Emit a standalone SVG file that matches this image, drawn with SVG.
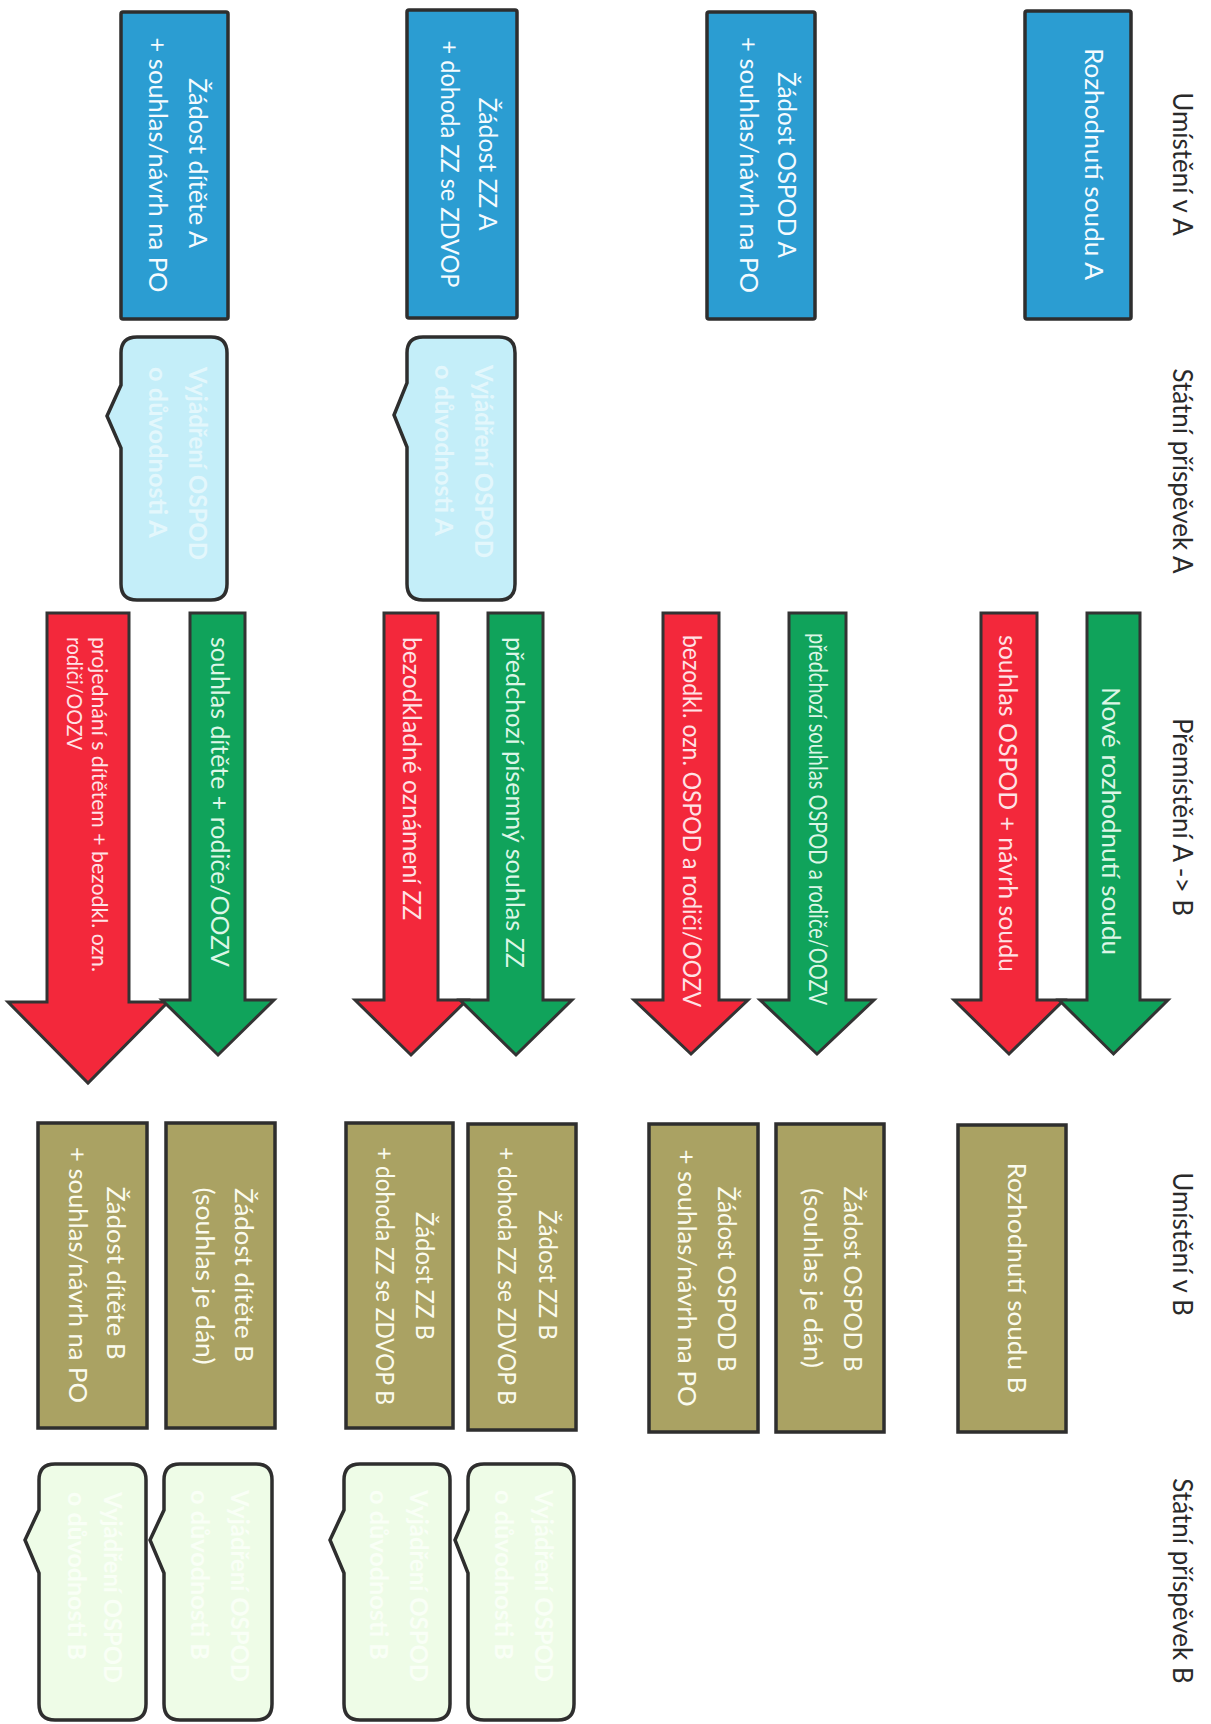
<svg xmlns="http://www.w3.org/2000/svg" width="1211" height="1724" viewBox="0 0 1211 1724">
<style>
  .hdr { font-family: Lato, "Liberation Sans", sans-serif; font-size: 26px; fill: #2a2a2a; }
  .bt { font-family: Lato, "Liberation Sans", sans-serif; font-size: 25px; fill: #f4fbff; }
  .ot { font-family: Lato, "Liberation Sans", sans-serif; font-size: 25px; fill: #fbfbee; }
  .blt { font-family: Lato, "Liberation Sans", sans-serif; font-size: 24px; font-weight: bold; fill: #e3f7fc; }
  .gbt { font-family: Lato, "Liberation Sans", sans-serif; font-size: 24px; font-weight: bold; fill: #f9fff6; }
  .at { font-family: Lato, "Liberation Sans", sans-serif; font-size: 25px; }
  .rt { fill: #ffe2e5; }
  .gt { fill: #dcf6e6; }
  .blue { fill: #2b9dd2; stroke: #2e2e2e; stroke-width: 3.5; }
  .olive { fill: #aaa263; stroke: #2e2e2e; stroke-width: 3.5; }
  .lb { fill: #c4eef9; stroke: #2e2e2e; stroke-width: 3.5; }
  .lg { fill: #eefce7; stroke: #2e2e2e; stroke-width: 3.5; }
  .red { fill: #f3283b; stroke: #333; stroke-width: 3; stroke-linejoin: miter; }
  .green { fill: #10a35b; stroke: #333; stroke-width: 3; stroke-linejoin: miter; }
</style>

<g id="headers">
  <text class="hdr" transform="translate(1173,164) rotate(90)" text-anchor="middle">Umístění v A</text>
  <text class="hdr" transform="translate(1173,471) rotate(90)" text-anchor="middle">Státní příspěvek A</text>
  <text class="hdr" transform="translate(1173,817) rotate(90)" text-anchor="middle">Přemístění A -&gt; B</text>
  <text class="hdr" transform="translate(1173,1244) rotate(90)" text-anchor="middle">Umístění v B</text>
  <text class="hdr" transform="translate(1173,1581) rotate(90)" text-anchor="middle">Státní příspěvek B</text>
</g>

<!-- Column A placements -->
<g id="rozhodnuti-soudu-a">
  <rect class="blue" x="1025" y="11" width="106" height="308" rx="2"/>
  <text class="bt" transform="translate(1085,164) rotate(90)" text-anchor="middle" textLength="232" lengthAdjust="spacingAndGlyphs">Rozhodnutí soudu A</text>
</g>
<g id="zadost-ospod-a">
  <rect class="blue" x="707" y="12" width="108" height="307" rx="2"/>
  <text class="bt" transform="translate(778,165) rotate(90)" text-anchor="middle" textLength="186" lengthAdjust="spacingAndGlyphs">Žádost OSPOD A</text>
  <text class="bt" transform="translate(740,165) rotate(90)" text-anchor="middle" textLength="256" lengthAdjust="spacingAndGlyphs">+ souhlas/návrh na PO</text>
</g>
<g id="zadost-zz-a">
  <rect class="blue" x="407" y="10" width="110" height="308" rx="2"/>
  <text class="bt" transform="translate(479,164) rotate(90)" text-anchor="middle" textLength="133" lengthAdjust="spacingAndGlyphs">Žádost ZZ A</text>
  <text class="bt" transform="translate(441,164) rotate(90)" text-anchor="middle" textLength="247" lengthAdjust="spacingAndGlyphs">+ dohoda ZZ se ZDVOP</text>
</g>
<g id="zadost-ditete-a">
  <rect class="blue" x="121" y="12" width="107" height="307" rx="2"/>
  <text class="bt" transform="translate(189,163) rotate(90)" text-anchor="middle" textLength="170" lengthAdjust="spacingAndGlyphs">Žádost dítěte A</text>
  <text class="bt" transform="translate(149,165) rotate(90)" text-anchor="middle" textLength="255" lengthAdjust="spacingAndGlyphs">+ souhlas/návrh na PO</text>
</g>

<!-- State contribution A -->
<g id="vyjadreni-a-zz">
  <path class="lb" d="M423,337 H499 Q515,337 515,353 V584 Q515,600 499,600 H423 Q407,600 407,584 V447 L394,415 L407,383 V353 Q407,337 423,337 Z"/>
  <text class="blt" transform="translate(475,365) rotate(90)" textLength="193" lengthAdjust="spacingAndGlyphs">Vyjádření OSPOD</text>
  <text class="blt" transform="translate(435,365) rotate(90)" textLength="171" lengthAdjust="spacingAndGlyphs">o důvodnosti A</text>
</g>
<g id="vyjadreni-a-dite">
  <path class="lb" d="M137,337 H211 Q227,337 227,353 V584 Q227,600 211,600 H137 Q121,600 121,584 V448 L107,416 L121,385 V353 Q121,337 137,337 Z"/>
  <text class="blt" transform="translate(189,367) rotate(90)" textLength="193" lengthAdjust="spacingAndGlyphs">Vyjádření OSPOD</text>
  <text class="blt" transform="translate(149,367) rotate(90)" textLength="171" lengthAdjust="spacingAndGlyphs">o důvodnosti A</text>
</g>

<!-- Transfer arrows -->
<g id="connectors">
  <g id="arrow-souhlas-ospod">
    <path class="red" d="M981,613 H1037 V1000 H1064 L1009,1054 L954,1000 H981 Z"/>
    <text class="at rt" transform="translate(999,635) rotate(90)" textLength="337" lengthAdjust="spacingAndGlyphs">souhlas OSPOD + návrh soudu</text>
  </g>
  <g id="arrow-nove-rozhodnuti">
    <path class="green" d="M1087,613 H1140 V1000 H1168 L1113.5,1054 L1059,1000 H1087 Z"/>
    <text class="at gt" transform="translate(1102,687) rotate(90)" textLength="268" lengthAdjust="spacingAndGlyphs">Nové rozhodnutí soudu</text>
  </g>
  <g id="arrow-bezodkl-ospod">
    <path class="red" d="M663,613 H719 V1000 H748 L691,1054 L634,1000 H663 Z"/>
    <text class="at rt" transform="translate(683,635) rotate(90)" textLength="372" lengthAdjust="spacingAndGlyphs">bezodkl. ozn. OSPOD a rodiči/OOZV</text>
  </g>
  <g id="arrow-predchozi-ospod">
    <path class="green" d="M789,613 H846 V1000 H874 L817,1054 L760,1000 H789 Z"/>
    <text class="at gt" transform="translate(809,633) rotate(90)" textLength="372" lengthAdjust="spacingAndGlyphs">předchozí souhlas OSPOD a rodiče/OOZV</text>
  </g>
  <g id="arrow-bezodkladne-zz">
    <path class="red" d="M384,613 H438 V1000 H467 L411,1055 L355,1000 H384 Z"/>
    <text class="at rt" transform="translate(403,637) rotate(90)" textLength="283" lengthAdjust="spacingAndGlyphs">bezodkladné oznámení ZZ</text>
  </g>
  <g id="arrow-predchozi-zz">
    <path class="green" d="M488,613 H543 V1000 H572 L516,1055 L460,1000 H488 Z"/>
    <text class="at gt" transform="translate(506,637) rotate(90)" textLength="331" lengthAdjust="spacingAndGlyphs">předchozí písemný souhlas ZZ</text>
  </g>
  <g id="arrow-projednani">
    <path class="red" d="M47,613 H129 V1002 H168 L88,1083 L8,1002 H47 Z"/>
    <text class="at rt" style="font-size:21px" transform="translate(92,637) rotate(90)" textLength="335" lengthAdjust="spacingAndGlyphs">projednání s dítětem + bezodkl.  ozn.</text>
    <text class="at rt" style="font-size:21px" transform="translate(67,637) rotate(90)" textLength="113" lengthAdjust="spacingAndGlyphs">rodiči/OOZV</text>
  </g>
  <g id="arrow-souhlas-ditete">
    <path class="green" d="M190,613 H245 V1000 H274 L218,1055 L162,1000 H190 Z"/>
    <text class="at gt" transform="translate(211,637) rotate(90)" textLength="330" lengthAdjust="spacingAndGlyphs">souhlas dítěte + rodiče/OOZV</text>
  </g>
</g>

<!-- Column B placements -->
<g id="rozhodnuti-soudu-b">
  <rect class="olive" x="958" y="1125" width="108" height="307"/>
  <text class="ot" transform="translate(1008,1278) rotate(90)" text-anchor="middle" textLength="231" lengthAdjust="spacingAndGlyphs">Rozhodnutí soudu B</text>
</g>
<g id="zadost-ospod-b-dan">
  <rect class="olive" x="776" y="1124" width="108" height="308"/>
  <text class="ot" transform="translate(844,1279) rotate(90)" text-anchor="middle" textLength="185" lengthAdjust="spacingAndGlyphs">Žádost OSPOD B</text>
  <text class="ot" transform="translate(804,1278) rotate(90)" text-anchor="middle" textLength="180" lengthAdjust="spacingAndGlyphs">(souhlas je dán)</text>
</g>
<g id="zadost-ospod-b-souhlas">
  <rect class="olive" x="649" y="1124" width="109" height="308"/>
  <text class="ot" transform="translate(718,1279) rotate(90)" text-anchor="middle" textLength="185" lengthAdjust="spacingAndGlyphs">Žádost OSPOD B</text>
  <text class="ot" transform="translate(678,1278) rotate(90)" text-anchor="middle" textLength="257" lengthAdjust="spacingAndGlyphs">+ souhlas/návrh na PO</text>
</g>
<g id="zadost-zz-b-2">
  <rect class="olive" x="468" y="1124" width="108" height="306"/>
  <text class="ot" transform="translate(539,1275) rotate(90)" text-anchor="middle" textLength="130" lengthAdjust="spacingAndGlyphs">Žádost ZZ B</text>
  <text class="ot" transform="translate(498,1276) rotate(90)" text-anchor="middle" textLength="258" lengthAdjust="spacingAndGlyphs">+ dohoda ZZ se ZDVOP B</text>
</g>
<g id="zadost-zz-b-1">
  <rect class="olive" x="346" y="1123" width="107" height="305"/>
  <text class="ot" transform="translate(416,1276) rotate(90)" text-anchor="middle" textLength="128" lengthAdjust="spacingAndGlyphs">Žádost ZZ B</text>
  <text class="ot" transform="translate(376,1276) rotate(90)" text-anchor="middle" textLength="258" lengthAdjust="spacingAndGlyphs">+ dohoda ZZ se ZDVOP B</text>
</g>
<g id="zadost-ditete-b-dan">
  <rect class="olive" x="166" y="1123" width="109" height="305"/>
  <text class="ot" transform="translate(235,1275) rotate(90)" text-anchor="middle" textLength="174" lengthAdjust="spacingAndGlyphs">Žádost dítěte B</text>
  <text class="ot" transform="translate(196,1276) rotate(90)" text-anchor="middle" textLength="177" lengthAdjust="spacingAndGlyphs">(souhlas je dán)</text>
</g>
<g id="zadost-ditete-b-souhlas">
  <rect class="olive" x="38" y="1123" width="109" height="305"/>
  <text class="ot" transform="translate(107,1273) rotate(90)" text-anchor="middle" textLength="173" lengthAdjust="spacingAndGlyphs">Žádost dítěte B</text>
  <text class="ot" transform="translate(69,1275) rotate(90)" text-anchor="middle" textLength="256" lengthAdjust="spacingAndGlyphs">+ souhlas/návrh na PO</text>
</g>

<!-- State contribution B -->
<g id="vyjadreni-b-zz-2">
  <path class="lg" d="M484,1464 H558 Q574,1464 574,1480 V1704 Q574,1720 558,1720 H484 Q468,1720 468,1704 V1573 L455,1540 L468,1510 V1480 Q468,1464 484,1464 Z"/>
  <text class="gbt" transform="translate(535,1490) rotate(90)" textLength="192" lengthAdjust="spacingAndGlyphs">Vyjádření OSPOD</text>
  <text class="gbt" transform="translate(495,1490) rotate(90)" textLength="170" lengthAdjust="spacingAndGlyphs">o důvodnosti B</text>
</g>
<g id="vyjadreni-b-zz-1">
  <path class="lg" d="M360,1464 H434 Q450,1464 450,1480 V1704 Q450,1720 434,1720 H360 Q344,1720 344,1704 V1573 L330,1540 L344,1510 V1480 Q344,1464 360,1464 Z"/>
  <text class="gbt" transform="translate(410,1490) rotate(90)" textLength="192" lengthAdjust="spacingAndGlyphs">Vyjádření OSPOD</text>
  <text class="gbt" transform="translate(370,1490) rotate(90)" textLength="170" lengthAdjust="spacingAndGlyphs">o důvodnosti B</text>
</g>
<g id="vyjadreni-b-dite-2">
  <path class="lg" d="M180,1464 H256 Q272,1464 272,1480 V1704 Q272,1720 256,1720 H180 Q164,1720 164,1704 V1573 L150,1540 L164,1510 V1480 Q164,1464 180,1464 Z"/>
  <text class="gbt" transform="translate(231,1490) rotate(90)" textLength="192" lengthAdjust="spacingAndGlyphs">Vyjádření OSPOD</text>
  <text class="gbt" transform="translate(191,1490) rotate(90)" textLength="170" lengthAdjust="spacingAndGlyphs">o důvodnosti B</text>
</g>
<g id="vyjadreni-b-dite-1">
  <path class="lg" d="M55,1464 H130 Q146,1464 146,1480 V1704 Q146,1720 130,1720 H55 Q39,1720 39,1704 V1573 L25,1540 L39,1510 V1480 Q39,1464 55,1464 Z"/>
  <text class="gbt" transform="translate(104,1492) rotate(90)" textLength="191" lengthAdjust="spacingAndGlyphs">Vyjádření OSPOD</text>
  <text class="gbt" transform="translate(68,1492) rotate(90)" textLength="168" lengthAdjust="spacingAndGlyphs">o důvodnosti B</text>
</g>
</svg>
